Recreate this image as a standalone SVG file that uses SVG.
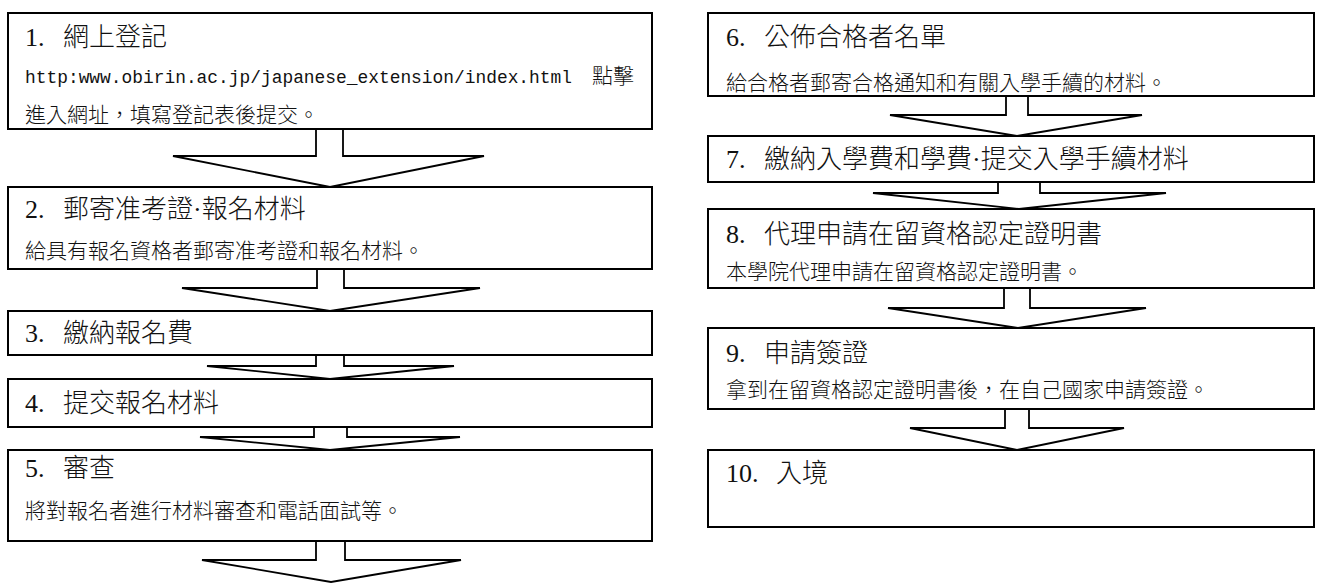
<svg xmlns="http://www.w3.org/2000/svg" width="1321" height="583" viewBox="0 0 1321 583">
<style>
.box{fill:#fff;stroke:#000;stroke-width:2}
.arr{fill:#fff;stroke:#000;stroke-width:1.8;stroke-linejoin:miter}
.num{font-family:"Liberation Serif",serif;font-size:26px;fill:#111}
.ttl{font-family:"Noto Sans CJK TC","Noto Sans CJK SC",sans-serif;font-size:26px;font-weight:300;fill:#111}
.dot{font-family:"Liberation Serif",serif}
.body{font-family:"Noto Sans CJK TC","Noto Sans CJK SC",sans-serif;font-size:21px;font-weight:300;fill:#111}
.url{font-family:"Liberation Mono",monospace;font-size:18px;fill:#111}
</style>
<rect width="1321" height="583" fill="#fff"/>
<g id="connectors">
<polygon class="arr" points="316,128 316,156 173,156 330,187 484,156 343,156 343,128"/>
<polygon class="arr" points="317,268 317,288 182,288 330,311 480,288 344,288 344,268"/>
<polygon class="arr" points="316,354 316,366 207,366 330,379 454,366 344,366 344,354"/>
<polygon class="arr" points="314,426 314,437 200,437 330,450 460,437 347,437 347,426"/>
<polygon class="arr" points="316,540 316,560 202,560 331,582 461,560 345,560 345,540"/>
<polygon class="arr" points="1006,95 1006,115 890,115 1017,136 1142,115 1028,115 1028,95"/>
<polygon class="arr" points="998,181 998,193 873,193 1019,209 1166,193 1040,193 1040,181"/>
<polygon class="arr" points="1004,287 1004,308 888,308 1018,328 1146,308 1030,308 1030,287"/>
<polygon class="arr" points="1005,408 1005,428 910,428 1017,450 1124,428 1029,428 1029,408"/>
</g>
<g id="n1">
<rect class="box" x="8" y="13" width="644" height="116"/>
<text class="num" x="25" y="46">1.</text><text class="ttl" x="63" y="46">網上登記</text>
<text class="url" x="25" y="83" textLength="547" lengthAdjust="spacingAndGlyphs">http:www.obirin.ac.jp/japanese_extension/index.html</text>
<text class="body" x="592" y="83">點擊</text>
<text class="body" x="25" y="122">進入網址，填寫登記表後提交。</text>
</g>
<g id="n2">
<rect class="box" x="8" y="187" width="644" height="82"/>
<text class="num" x="25" y="218">2.</text><text class="ttl" x="63" y="218">郵寄准考證<tspan class="dot">·</tspan>報名材料</text>
<text class="body" x="25" y="258">給具有報名資格者郵寄准考證和報名材料。</text>
</g>
<g id="n3">
<rect class="box" x="8" y="311" width="644" height="44"/>
<text class="num" x="25" y="342">3.</text><text class="ttl" x="63" y="342">繳納報名費</text>
</g>
<g id="n4">
<rect class="box" x="8" y="379" width="644" height="48"/>
<text class="num" x="25" y="412">4.</text><text class="ttl" x="63" y="412">提交報名材料</text>
</g>
<g id="n5">
<rect class="box" x="8" y="450" width="644" height="91"/>
<text class="num" x="25" y="477">5.</text><text class="ttl" x="63" y="477">審查</text>
<text class="body" x="25" y="518">將對報名者進行材料審查和電話面試等。</text>
</g>
<g id="n6">
<rect class="box" x="708" y="13" width="606" height="83"/>
<text class="num" x="726" y="46">6.</text><text class="ttl" x="764" y="46">公佈合格者名單</text>
<text class="body" x="726" y="90">給合格者郵寄合格通知和有關入學手續的材料。</text>
</g>
<g id="n7">
<rect class="box" x="708" y="136" width="606" height="46"/>
<text class="num" x="726" y="168">7.</text><text class="ttl" x="764" y="168">繳納入學費和學費<tspan class="dot">·</tspan>提交入學手續材料</text>
</g>
<g id="n8">
<rect class="box" x="708" y="209" width="606" height="79"/>
<text class="num" x="726" y="243">8.</text><text class="ttl" x="764" y="243">代理申請在留資格認定證明書</text>
<text class="body" x="726" y="279">本學院代理申請在留資格認定證明書。</text>
</g>
<g id="n9">
<rect class="box" x="708" y="328" width="606" height="81"/>
<text class="num" x="726" y="362">9.</text><text class="ttl" x="764" y="362">申請簽證</text>
<text class="body" x="726" y="397">拿到在留資格認定證明書後，在自己國家申請簽證。</text>
</g>
<g id="n10">
<rect class="box" x="708" y="450" width="606" height="77"/>
<text class="num" x="726" y="482">10.</text><text class="ttl" x="776" y="482">入境</text>
</g>
</svg>
